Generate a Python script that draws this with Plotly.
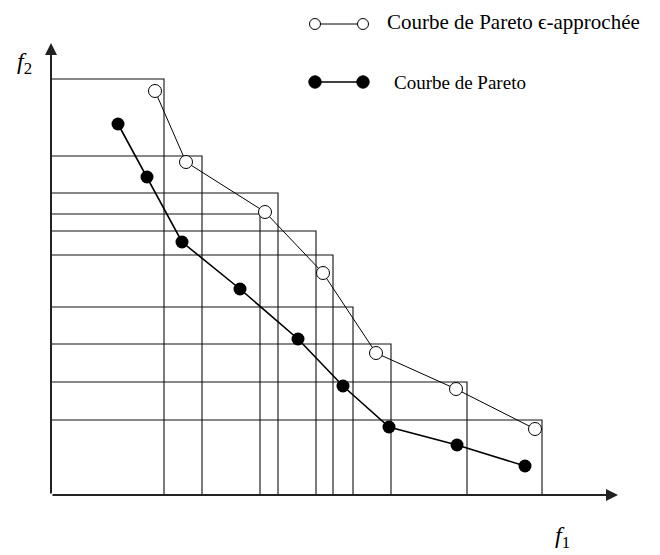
import plotly.graph_objects as go

# ---- data ----
box_f1 = [11.3, 15.1, 22.7, 20.9, 26.5, 28.2, 30.2, 34.0, 41.6, 49.1]
box_f2 = [41.6, 33.9, 30.2, 28.1, 26.4, 24.0, 18.8, 15.1, 11.3, 7.5]

approx_f1 = [10.4, 13.5, 21.4, 27.2, 32.5, 40.5, 48.4]
approx_f2 = [40.4, 33.3, 28.3, 22.2, 14.2, 10.6, 6.6]

pareto_f1 = [6.7, 9.6, 13.1, 18.9, 24.7, 29.2, 33.8, 40.6, 47.4]
pareto_f2 = [37.1, 31.8, 25.3, 20.6, 15.6, 10.9, 6.8, 5.0, 2.9]

legend_labels = ["Courbe de Pareto \u03f5-approch\u00e9e", "Courbe de Pareto"]
axis_labels = ["<i>f</i><sub>1</sub>", "<i>f</i><sub>2</sub>"]

# ---- layout constants ----
F1_END, F2_END = 56.7, 45.2
XR = [-4.3, 60.9]
YR = [-6.0, 48.7]
LINE_COL = "#111111"
SERIF = "Liberation Serif, Times New Roman, serif"

fig = go.Figure()

# epsilon boxes
bx, by = [], []
for cx, cy in zip(box_f1, box_f2):
    bx += [0, cx, cx, None]
    by += [cy, cy, 0, None]
fig.add_trace(go.Scatter(x=bx, y=by, mode="lines",
                         line=dict(color=LINE_COL, width=1.1), hoverinfo="skip",
                         showlegend=False))

# Pareto curve (filled)
fig.add_trace(go.Scatter(x=pareto_f1, y=pareto_f2, mode="lines+markers",
                         line=dict(color="black", width=1.6),
                         marker=dict(size=13, color="black", symbol="circle"),
                         showlegend=False))

# epsilon-approx curve (open)
fig.add_trace(go.Scatter(x=approx_f1, y=approx_f2, mode="lines+markers",
                         line=dict(color="black", width=1),
                         marker=dict(size=13, color="white", symbol="circle",
                                     line=dict(color="black", width=1)),
                         showlegend=False))

# axes with arrows
fig.add_annotation(x=F1_END, y=0, ax=0, ay=0, xref="x", yref="y", axref="x", ayref="y",
                   text="", showarrow=True, arrowhead=2, arrowsize=1.2,
                   arrowwidth=2, arrowcolor="#222")
fig.add_annotation(x=0, y=F2_END, ax=0, ay=0, xref="x", yref="y", axref="x", ayref="y",
                   text="", showarrow=True, arrowhead=2, arrowsize=1.2,
                   arrowwidth=2, arrowcolor="#222")

# axis labels
fig.add_annotation(x=51.1, y=-4.2, text=axis_labels[0], showarrow=False,
                   font=dict(family=SERIF, size=24, color="black"))
fig.add_annotation(x=-2.7, y=43.2, text=axis_labels[1], showarrow=False,
                   font=dict(family=SERIF, size=24, color="black"))

# hand-drawn legend
leg_y = [47.1, 41.3]
leg_x = [26.4, 31.2]
# open sample
fig.add_shape(type="line", x0=leg_x[0], x1=leg_x[1], y0=leg_y[0], y1=leg_y[0],
              line=dict(color="black", width=1))
for lx in leg_x:
    fig.add_shape(type="circle", x0=lx - 0.55, x1=lx + 0.55, y0=leg_y[0] - 0.55, y1=leg_y[0] + 0.55,
                  line=dict(color="black", width=1), fillcolor="white")
# filled sample
fig.add_shape(type="line", x0=leg_x[0], x1=leg_x[1], y0=leg_y[1], y1=leg_y[1],
              line=dict(color="black", width=1.6))
for lx in leg_x:
    fig.add_shape(type="circle", x0=lx - 0.62, x1=lx + 0.62, y0=leg_y[1] - 0.62, y1=leg_y[1] + 0.62,
                  line=dict(color="black", width=1), fillcolor="black")

fig.add_annotation(x=33.4, y=47.3, text=legend_labels[0], showarrow=False, xanchor="left",
                   font=dict(family=SERIF, size=21, color="black"))
fig.add_annotation(x=34.1, y=41.3, text=legend_labels[1], showarrow=False, xanchor="left",
                   font=dict(family=SERIF, size=19, color="black"))

fig.update_layout(width=652, height=547, autosize=False,
                  margin=dict(l=0, r=0, t=0, b=0),
                  paper_bgcolor="white", plot_bgcolor="white",
                  xaxis=dict(range=XR, visible=False, fixedrange=True),
                  yaxis=dict(range=YR, visible=False, fixedrange=True),
                  showlegend=False)

fig.write_html("out.html")
